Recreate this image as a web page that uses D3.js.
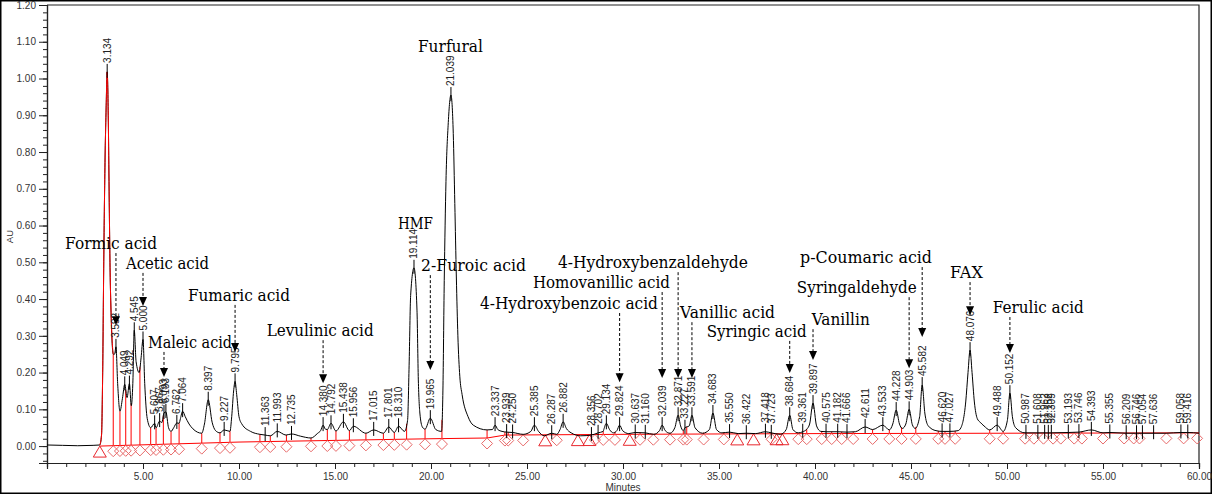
<!DOCTYPE html>
<html><head><meta charset="utf-8">
<script src="https://cdn.jsdelivr.net/npm/d3@7"></script>
<style>body{margin:0;background:#fff;} svg{display:block;}</style>
</head><body><svg id="c" width="1212" height="494"></svg>
<script>
// ---------- DATA ----------
// chromatogram trace: [minutes, AU]
const trace = [
[0.0,0.003],[0.8,0.002],[1.6,0.001],[2.4,0.002],[2.75,0.003],
[2.84,0.03],[2.9,0.2],[2.96,0.52],[3.03,0.8],[3.08,0.92],[3.134,1.018],[3.19,0.9],[3.23,0.72],[3.28,0.5],[3.35,0.34],[3.45,0.25],[3.52,0.25],[3.592,0.27],[3.68,0.17],[3.8,0.095],[3.93,0.13],[4.049,0.168],[4.17,0.132],[4.292,0.17],[4.39,0.11],[4.47,0.17],[4.545,0.315],[4.64,0.23],[4.8,0.2],[4.9,0.24],[5.0,0.29],[5.09,0.17],[5.22,0.075],[5.4,0.05],[5.607,0.062],[5.68,0.05],[5.867,0.068],[5.98,0.064],[6.093,0.09],[6.193,0.093],[6.33,0.05],[6.46,0.04],[6.6,0.05],[6.762,0.063],[6.88,0.062],[6.95,0.075],[7.064,0.095],[7.2,0.08],[7.4,0.06],[7.6,0.047],[8.06,0.035],[8.2,0.06],[8.397,0.126],[8.6,0.065],[8.78,0.042],[9.01,0.036],[9.227,0.044],[9.53,0.04],[9.62,0.08],[9.72,0.15],[9.795,0.176],[9.88,0.14],[10.0,0.08],[10.15,0.06],[10.6,0.04],[11.09,0.032],[11.363,0.03],[11.63,0.028],[11.993,0.04],[12.45,0.03],[12.735,0.033],[13.2,0.027],[13.75,0.022],[14.1,0.035],[14.25,0.042],[14.38,0.057],[14.5,0.046],[14.6,0.045],[14.792,0.062],[15.05,0.041],[15.438,0.066],[15.75,0.042],[15.956,0.054],[16.61,0.035],[17.015,0.044],[17.52,0.035],[17.801,0.052],[18.09,0.037],[18.31,0.054],[18.62,0.04],[18.78,0.07],[18.86,0.22],[18.94,0.41],[19.114,0.485],[19.27,0.37],[19.34,0.18],[19.42,0.09],[19.55,0.052],[19.69,0.046],[19.965,0.076],[20.25,0.045],[20.55,0.04],[20.62,0.15],[20.69,0.45],[20.78,0.72],[20.9,0.88],[21.039,0.955],[21.16,0.85],[21.24,0.66],[21.32,0.46],[21.4,0.3],[21.5,0.19],[21.62,0.14],[21.93,0.08],[22.2,0.057],[22.92,0.044],[23.2,0.045],[23.337,0.057],[23.48,0.045],[23.7,0.04],[23.939,0.038],[24.25,0.037],[24.8,0.032],[25.2,0.04],[25.385,0.057],[25.6,0.04],[25.9,0.028],[26.287,0.035],[26.55,0.032],[26.72,0.045],[26.882,0.066],[27.05,0.048],[27.3,0.036],[27.8,0.028],[28.356,0.03],[28.702,0.036],[28.97,0.04],[29.0,0.045],[29.134,0.062],[29.3,0.045],[29.5,0.036],[29.68,0.042],[29.824,0.057],[29.98,0.042],[30.3,0.034],[30.637,0.037],[31.16,0.036],[31.6,0.032],[31.9,0.042],[32.039,0.057],[32.2,0.042],[32.45,0.035],[32.7,0.05],[32.871,0.084],[33.0,0.055],[33.14,0.042],[33.227,0.05],[33.45,0.055],[33.591,0.084],[33.75,0.05],[34.15,0.035],[34.5,0.045],[34.683,0.09],[34.87,0.045],[35.15,0.036],[35.55,0.038],[36.0,0.034],[36.422,0.035],[36.9,0.034],[37.418,0.039],[37.723,0.036],[38.2,0.032],[38.5,0.045],[38.684,0.084],[38.85,0.045],[39.13,0.036],[39.361,0.039],[39.57,0.046],[39.72,0.06],[39.897,0.117],[40.08,0.055],[40.3,0.04],[40.575,0.039],[41.182,0.039],[41.666,0.038],[42.1,0.039],[42.611,0.052],[43.0,0.045],[43.533,0.057],[43.87,0.044],[44.05,0.06],[44.228,0.098],[44.4,0.06],[44.55,0.048],[44.73,0.06],[44.903,0.1],[45.07,0.058],[45.22,0.048],[45.45,0.08],[45.582,0.166],[45.72,0.09],[45.9,0.055],[46.3,0.042],[46.62,0.04],[47.027,0.04],[47.45,0.042],[47.6,0.05],[47.85,0.12],[47.97,0.2],[48.076,0.261],[48.18,0.2],[48.3,0.12],[48.45,0.075],[48.6,0.065],[48.8,0.055],[49.1,0.044],[49.488,0.057],[49.8,0.04],[50.02,0.07],[50.152,0.144],[50.28,0.08],[50.45,0.05],[50.94,0.036],[51.608,0.036],[52.309,0.036],[53.193,0.037],[53.746,0.038],[54.393,0.044],[55.0,0.036],[55.355,0.037],[56.209,0.035],[57.054,0.035],[57.636,0.035],[58.3,0.035],[59.058,0.037],[59.416,0.037],[60.0,0.035]
];
// integration baseline [minutes, AU]
const baseline = [[2.75,0.0],[10,0.011],[20,0.02],[22.92,0.022],[23.85,0.03],[30,0.032],[40,0.034],[50,0.035],[60,0.036]];
// labelled retention times
const peakTimes = [3.134,3.592,4.049,4.292,4.545,5.000,5.607,5.867,6.093,6.193,6.762,7.064,8.397,9.227,9.795,11.363,11.993,12.735,14.380,14.792,15.438,15.956,17.015,17.801,18.310,19.114,19.965,21.039,23.337,23.939,24.250,25.385,26.287,26.882,28.356,28.702,29.134,29.824,30.637,31.160,32.039,32.871,33.227,33.591,34.683,35.550,36.422,37.418,37.723,38.684,39.361,39.897,40.575,41.182,41.666,42.611,43.533,44.228,44.903,45.582,46.620,47.027,48.076,49.488,50.152,50.987,51.608,51.962,52.152,52.309,53.193,53.746,54.393,55.355,56.209,56.746,57.054,57.636,59.058,59.416];
// peak start/end events
const diamondTimes = [3.45,3.80,4.10,4.38,4.84,5.40,5.68,6.06,6.46,6.88,8.06,9.01,9.53,11.09,11.63,12.47,13.75,14.6,15.05,15.75,16.61,17.52,18.09,18.73,19.69,20.57,22.92,23.85,24.02,24.8,26.55,28.54,28.97,29.58,30.89,31.58,32.45,33.14,33.32,34.2,35.25,37.74,39.13,39.57,40.35,40.87,41.39,41.99,43.0,43.87,44.51,45.25,46.42,46.77,47.3,49.1,49.8,50.94,51.4,51.9,52.4,52.8,53.5,53.9,55.0,56.1,56.6,56.9,58.3,59.2,59.9];
const triangleTimes = [2.75,25.95,27.65,28.25,30.35,35.95,36.8,38.0,38.3];
// compound names and the peak each one marks
const compoundNames = ["Formic acid","Acetic acid","Maleic acid","Fumaric acid","Levulinic acid","HMF","Furfural","2-Furoic acid","4-Hydroxybenzaldehyde","Homovanillic acid","4-Hydroxybenzoic acid","Vanillic acid","Syringic acid","Vanillin","p-Coumaric acid","Syringaldehyde","FAX","Ferulic acid"];
const compoundPeaks = [3.592,5.000,6.093,9.795,14.380,19.114,21.039,19.965,32.871,32.039,29.824,33.591,38.684,39.897,45.582,44.903,48.076,50.152];
const xTickLabels = [5,10,15,20,25,30,35,40,45,50,55,60];
const yTickLabels = [0.00,0.10,0.20,0.30,0.40,0.50,0.60,0.70,0.80,0.90,1.00,1.10,1.20];

// ---------- LAYOUT (annotation placement in data units) ----------
// [text left (min), text baseline (AU), arrow tip (AU) or null, text width px]
const annotLayout = [
 [0.94,0.536,0.329,92],[4.11,0.482,0.381,83],[5.26,0.267,0.188,84],[7.34,0.395,0.256,102],
 [11.44,0.299,0.171,107],[18.28,0.590,null,35],[19.32,1.072,null,65],[19.48,0.476,0.207,105],
 [26.61,0.484,0.185,190],[25.31,0.430,0.185,137],[22.55,0.373,0.174,178],[32.97,0.348,0.185,95],
 [34.36,0.297,0.199,100],[39.83,0.329,0.234,58],[39.22,0.498,0.297,132],[39.05,0.416,0.212,120],
 [47.03,0.457,0.356,33],[49.26,0.362,0.253,91]
];

// ---------- DRAW ----------
const svg = d3.select('#c');
const x = d3.scaleLinear().domain([0,60]).range([47,1199]);
const y = d3.scaleLinear().domain([-0.046,1.2]).range([463,5]);

const bis = d3.bisector(d=>d[0]).left;
function interp(arr,t){
  let i = bis(arr,t);
  if(i<=0) return arr[0][1];
  if(i>=arr.length) return arr[arr.length-1][1];
  const a=arr[i-1], b=arr[i];
  return a[1]+(b[1]-a[1])*(t-a[0])/(b[0]-a[0]);
}

svg.append('rect').attr('x',0.75).attr('y',0.75).attr('width',1210.5).attr('height',492.5)
  .attr('fill','none').attr('stroke','#000').attr('stroke-width',1.5);

// frame
svg.append('path').attr('d',`M${x(0)},${y(1.2)}H${x(60)}V${y(-0.046)}`)
  .attr('fill','none').attr('stroke','#222').attr('stroke-width',1.2);

// axes
const axFont = 'Liberation Sans, Arial, sans-serif';
svg.append('g').attr('transform',`translate(${x(0)},0)`)
  .call(d3.axisLeft(y).tickValues(yTickLabels).tickSize(8).tickPadding(3).tickFormat(d3.format('.2f')));
svg.append('g').attr('transform',`translate(${x(0)},0)`)
  .call(d3.axisLeft(y).tickValues(d3.range(-2,61).map(i=>i*0.02)).tickSize(4).tickFormat(''));
svg.append('g').attr('transform',`translate(0,${y(-0.046)})`)
  .call(d3.axisBottom(x).tickValues(xTickLabels).tickSize(6).tickPadding(4).tickFormat(d3.format('.2f')));
svg.append('g').attr('transform',`translate(0,${y(-0.046)})`)
  .call(d3.axisBottom(x).tickValues(d3.range(1,60)).tickSize(4).tickFormat(''));
svg.selectAll('.domain').attr('stroke','#222').attr('stroke-width',1.2);
svg.selectAll('.tick line').attr('stroke','#222');
svg.selectAll('.tick text').attr('font-family',axFont).attr('font-size',10).attr('fill','#333');

svg.append('text').attr('transform',`translate(13,${y(0.57)}) rotate(-90)`)
  .attr('text-anchor','middle').attr('font-family',axFont).attr('font-size',9.5).attr('fill','#333').text('AU');
svg.append('text').attr('x',x(30)).attr('y',491).attr('text-anchor','middle')
  .attr('font-family',axFont).attr('font-size',10).attr('fill','#333').text('Minutes');

const g = svg.append('g');
// baseline
g.append('path').datum(baseline).attr('d',d3.line().x(d=>x(d[0])).y(d=>y(d[1])))
  .attr('fill','none').attr('stroke','#f00').attr('stroke-width',1);
// drop lines
g.selectAll('.drop').data(diamondTimes).enter().append('line')
  .attr('x1',d=>x(d)).attr('x2',d=>x(d))
  .attr('y1',d=>y(interp(baseline,d))).attr('y2',d=>y(interp(trace,d)))
  .attr('stroke','#f00').attr('stroke-width',1);
// markers
g.selectAll('.dia').data(diamondTimes).enter().append('path')
  .attr('d',d=>{const cx=x(d), cy=y(interp(baseline,d))+5.5; return `M${cx},${cy-5.5}L${cx+5.5},${cy}L${cx},${cy+5.5}L${cx-5.5},${cy}Z`;})
  .attr('fill','none').attr('stroke','#e86a6a').attr('stroke-width',1);
g.selectAll('.tri').data(triangleTimes).enter().append('path')
  .attr('d',d=>{const cx=x(d), cy=y(interp(baseline,d)); return `M${cx},${cy}L${cx+6.5},${cy+11}L${cx-6.5},${cy+11}Z`;})
  .attr('fill','none').attr('stroke','#e8282e').attr('stroke-width',1);

// trace
const line = d3.line().x(d=>x(d[0])).y(d=>y(d[1])).curve(d3.curveMonotoneX);
g.append('path').datum(trace).attr('d',line).attr('fill','none').attr('stroke','#000').attr('stroke-width',1);
g.append('path').datum(trace.filter(d=>d[0]>=2.75&&d[0]<=3.45)).attr('d',line)
  .attr('fill','none').attr('stroke','#f00').attr('stroke-width',1);

// peak label ticks and labels
peakTimes.forEach(t=>{
  const v = interp(trace,t), px=x(t), py=y(v);
  g.append('line').attr('x1',px).attr('x2',px).attr('y1',py-8).attr('y2',py+6).attr('stroke','#000').attr('stroke-width',1);
  g.append('text').attr('transform',`translate(${px},${py-9}) rotate(-90)`)
    .attr('dy','0.35em').attr('font-family',axFont).attr('font-size',10).attr('fill','#222').text(t.toFixed(3));
});

// compound annotations
const serif = 'DejaVu Serif, serif';
compoundNames.forEach((name,i)=>{
  const [tl,vb,vtip,w] = annotLayout[i];
  g.append('text').attr('x',x(tl)).attr('y',y(vb)).attr('font-family',serif).attr('font-size',16)
    .attr('textLength',w).attr('lengthAdjust','spacingAndGlyphs').attr('fill','#000').text(name);
  if(vtip!==null){
    const ax = x(compoundPeaks[i]), y0 = y(vb)+4, yt = y(vtip);
    g.append('line').attr('x1',ax).attr('x2',ax).attr('y1',y0).attr('y2',yt-8)
      .attr('stroke','#000').attr('stroke-width',1).attr('stroke-dasharray','3,2');
    g.append('path').attr('d',`M${ax-4},${yt-9}L${ax+4},${yt-9}L${ax},${yt}Z`).attr('fill','#000');
  }
});
</script></body></html>
